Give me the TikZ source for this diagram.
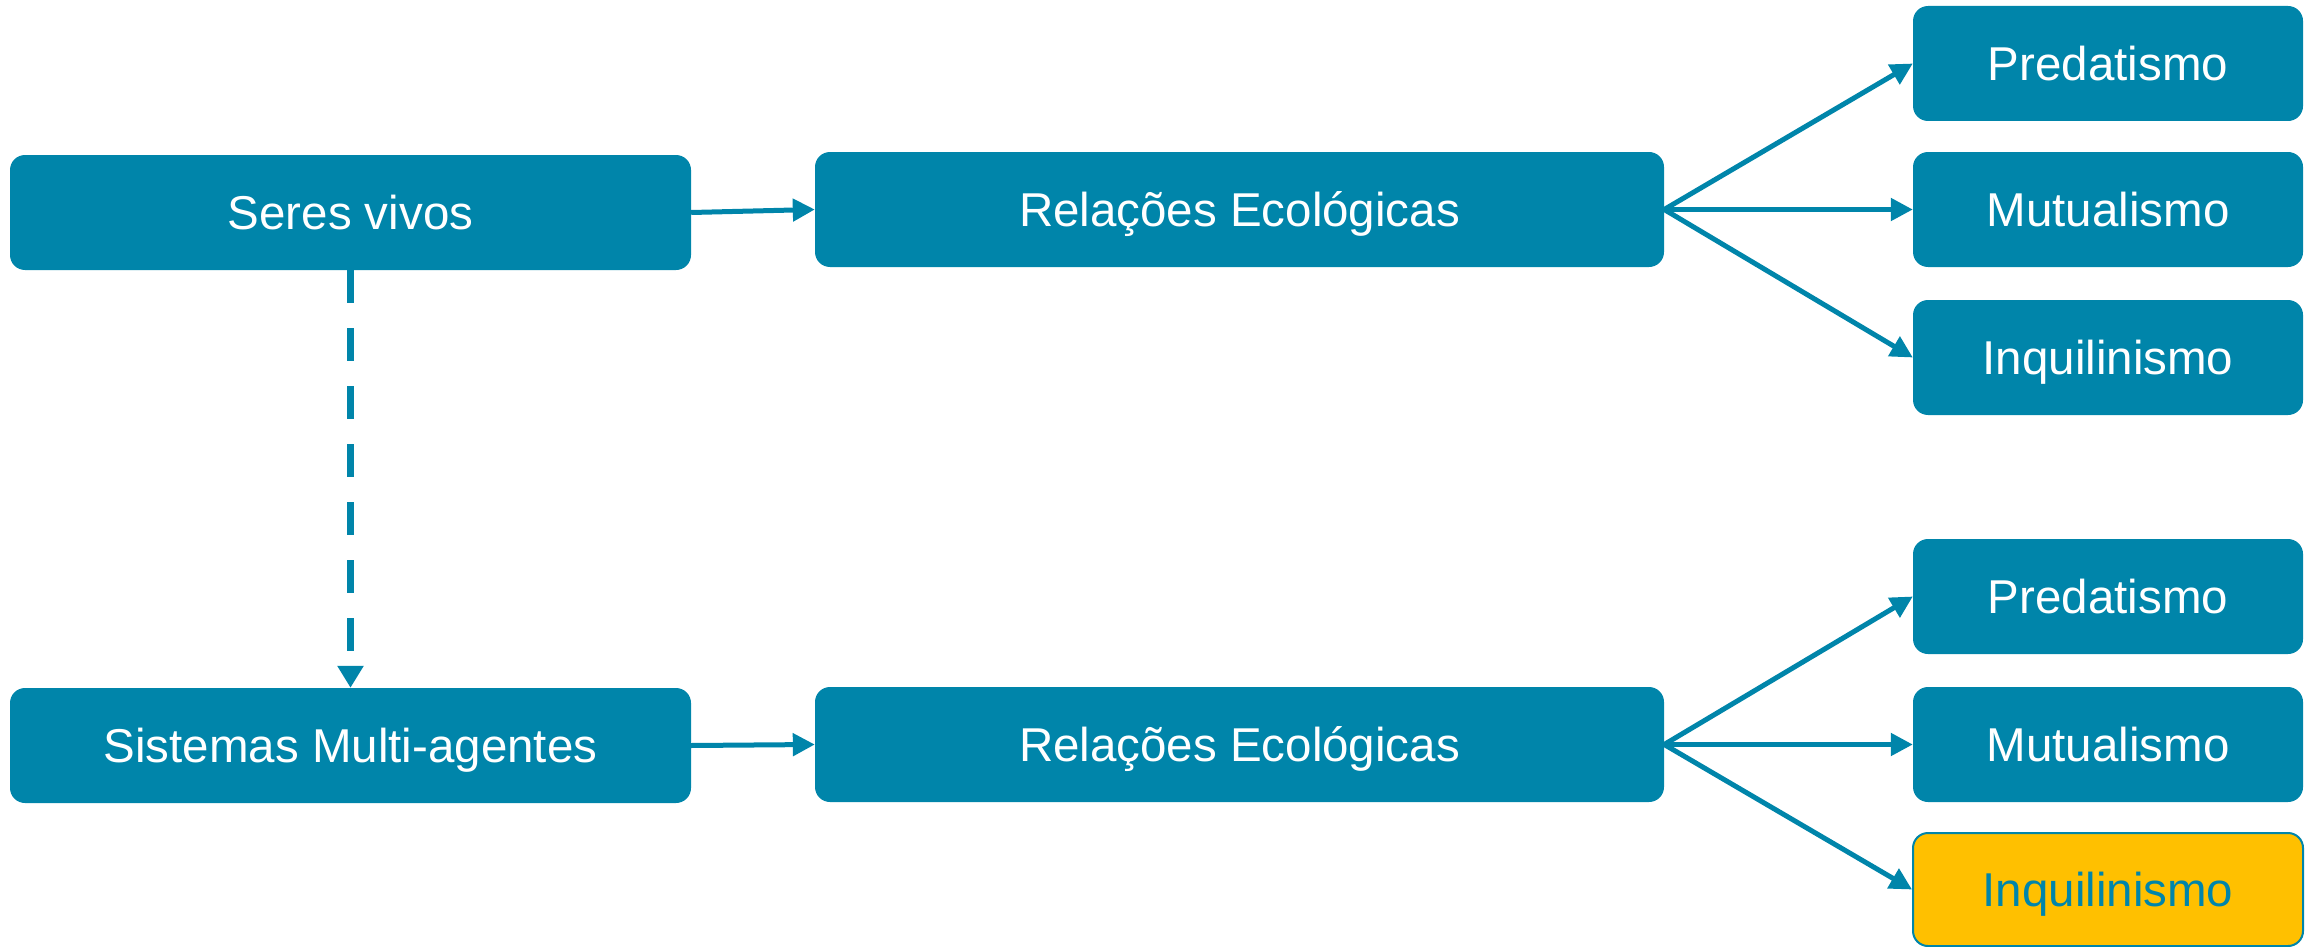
\documentclass[tikz,border=0pt]{standalone}
\usepackage{fontspec}
\setmainfont{Liberation Sans}
\usetikzlibrary{arrows.meta}
\definecolor{teal}{RGB}{0,133,170}
\definecolor{amber}{RGB}{255,192,0}
\begin{document}
\begin{tikzpicture}[x=1pt,y=-1pt,
  box/.style={rectangle, rounded corners=15pt, fill=teal, draw=none,
    text=white, inner sep=0pt, minimum height=115pt,
    text height=34pt, text depth=0pt,
    font=\fontsize{47.5}{57}\selectfont},
  leftbox/.style={box, minimum width=681pt},
  midbox/.style={box, minimum width=849pt},
  leafbox/.style={box, minimum width=390pt},
  hilite/.style={fill=amber, draw=teal, line width=2pt, text=teal, minimum height=113pt},
  link/.style={draw=teal, line width=5pt, -{Triangle[length=22pt,width=22pt]}},
  dlink/.style={draw=teal, line width=7.5pt, dash pattern=on 33pt off 25pt,
    -{Triangle[length=22pt,width=25pt]}}]
\useasboundingbox (0,0) rectangle (2315,947);

% left column
\node[leftbox] (sv)  at (350.5,212.5) {Seres vivos};
\node[leftbox] (sma) at (350.5,745.5) {Sistemas Multi-agentes};

% middle column
\node[midbox] (re1) at (1239.5,209.5) {Relações Ecológicas};
\node[midbox] (re2) at (1239.5,744.5) {Relações Ecológicas};

% right column
\node[leafbox] (p1) at (2108,63.5)  {Predatismo};
\node[leafbox] (m1) at (2108,209.5) {Mutualismo};
\node[leafbox] (i1) at (2108,357.5) {Inquilinismo};
\node[leafbox] (p2) at (2108,596.5) {Predatismo};
\node[leafbox] (m2) at (2108,744.5) {Mutualismo};
\node[leafbox,hilite] (i2) at (2108,889.5) {Inquilinismo};

% connectors
\draw[link] (sv.east) -- (re1.west);
\draw[link] (sma.east) -- (re2.west);
\draw[dlink] (sv.south) -- (sma.north);

\draw[link] (re1.east) -- (p1.west);
\draw[link] (re1.east) -- (m1.west);
\draw[link] (re1.east) -- (i1.west);
\draw[link] (re2.east) -- (p2.west);
\draw[link] (re2.east) -- (m2.west);
\draw[link] (re2.east) -- (i2.west);
\end{tikzpicture}
\end{document}
